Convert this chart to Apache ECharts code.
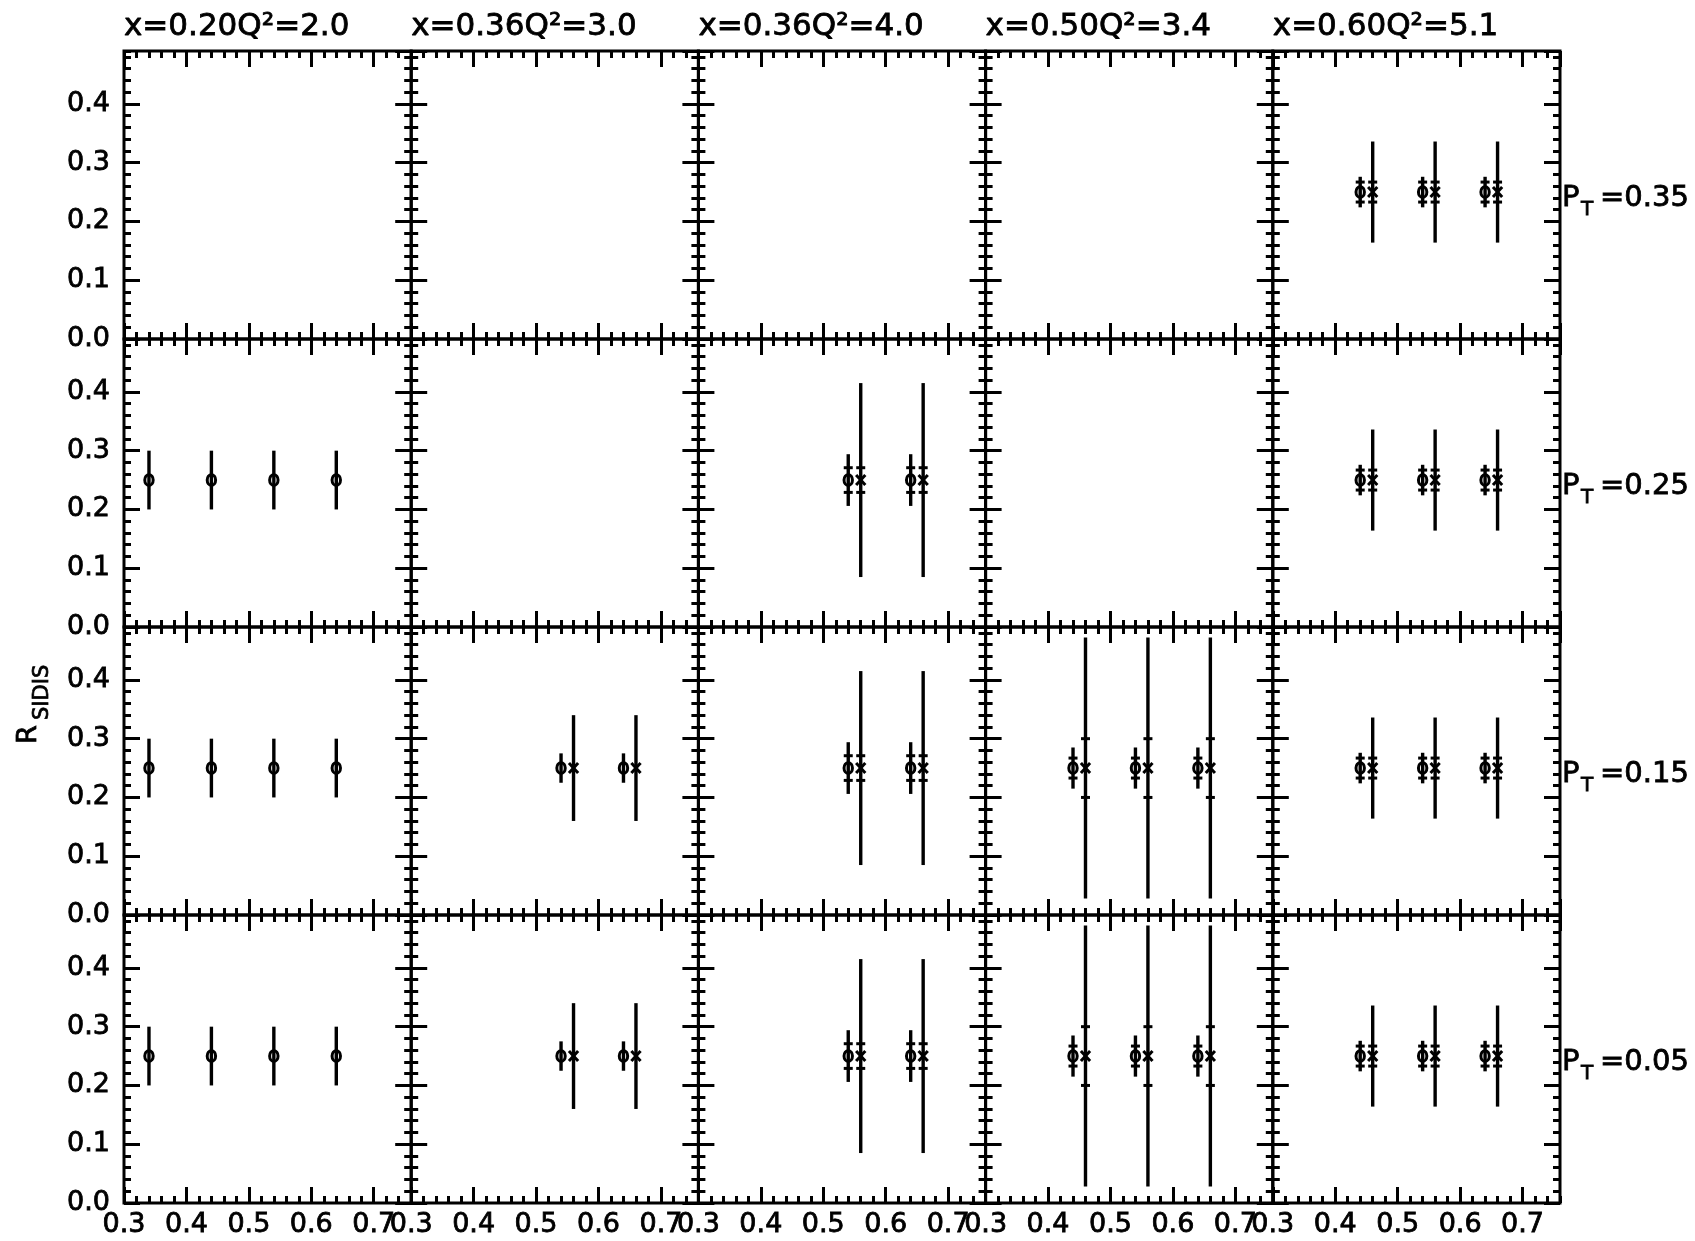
<!DOCTYPE html>
<html>
<head>
<meta charset="utf-8">
<script src="https://cdn.jsdelivr.net/npm/echarts@6/dist/echarts.min.js"></script>
<style>
  html, body { margin: 0; padding: 0; background: #fff; }
  #main { width: 1695px; height: 1241px; }
</style>
</head>
<body>
<div id="main"></div>
<script>
// ---------------- data ----------------
const colTitles = ['x=0.20Q²=2.0', 'x=0.36Q²=3.0', 'x=0.36Q²=4.0', 'x=0.50Q²=3.4', 'x=0.60Q²=5.1'];
const ptLabels = ['0.35', '0.25', '0.15', '0.05'];
// rows (P_T) x columns (x,Q2): 1 = panel has points
const panelHasData = [
  [0, 0, 0, 0, 1],
  [1, 0, 1, 0, 1],
  [1, 1, 1, 1, 1],
  [1, 1, 1, 1, 1]
];
// open-circle points, per column
const circX   = [[0.34, 0.44, 0.54, 0.64], [0.54, 0.64], [0.54, 0.64], [0.44, 0.54, 0.64], [0.44, 0.54, 0.64]];
const circR   = [[0.25, 0.25, 0.25, 0.25], [0.25, 0.25], [0.25, 0.25], [0.25, 0.25, 0.25], [0.25, 0.25, 0.25]];
const circErr = [[0.05, 0.05, 0.05, 0.05], [0.025, 0.025], [0.044, 0.044], [0.035, 0.035, 0.035], [0.026, 0.026, 0.026]];
const circCap = [[0, 0, 0, 0], [0, 0], [0.021, 0.021], [0.017, 0.017, 0.017], [0.017, 0.017, 0.017]];
// cross points, per column
const crossX   = [[], [0.56, 0.66], [0.56, 0.66], [0.46, 0.56, 0.66], [0.46, 0.56, 0.66]];
const crossR   = [[], [0.25, 0.25], [0.25, 0.25], [0.25, 0.25, 0.25], [0.25, 0.25, 0.25]];
const crossErr = [[], [0.09, 0.09], [0.165, 0.165], [0.222, 0.222, 0.222], [0.086, 0.086, 0.086]];
const crossCap = [[], [0, 0], [0.021, 0.021], [0.05, 0.05, 0.05], [0.017, 0.017, 0.017]];
// axis ranges / tick steps
const xRange = [0.3, 0.76];
const yRange = [0, 0.49];
const majorStep = 0.1;
const minorStep = 0.02;

// ---------------- layout ----------------
const FONT = 'DejaVu Sans';
const GL = 124, GT = 51, PW = 287.2, PH = 288;
const NR = 4, NC = 5;
const TICKW = 3;

const grids = [], xAxes = [], yAxes = [], series = [];

function fmt(v) {
  return Math.abs(v * 10 - Math.round(v * 10)) < 1e-6 ? v.toFixed(1) : '';
}

function labelStyle(margin) {
  return { formatter: fmt, showMinLabel: true, showMaxLabel: false, hideOverlap: false,
    color: '#000', fontFamily: FONT, fontSize: 27, margin: margin,
    textBorderColor: '#000', textBorderWidth: 0.8 };
}
function xAxis(g, step, pos, len, showLabel) {
  return {
    type: 'value', gridIndex: g, min: xRange[0], max: xRange[1], interval: step, position: pos,
    axisLine: { show: false, onZero: false },
    splitLine: { show: false }, minorTick: { show: false },
    axisTick: { show: true, inside: true, length: len, lineStyle: { color: '#000', width: TICKW } },
    axisLabel: Object.assign({ show: showLabel }, labelStyle(8))
  };
}
function yAxis(g, step, pos, len, showLabel) {
  return {
    type: 'value', gridIndex: g, min: yRange[0], max: yRange[1], interval: step, position: pos,
    axisLine: { show: false, onZero: false },
    splitLine: { show: false }, minorTick: { show: false },
    axisTick: { show: true, inside: true, length: len, lineStyle: { color: '#000', width: TICKW } },
    axisLabel: Object.assign({ show: showLabel }, labelStyle(14))
  };
}

function pointSeries(g, xs, ys, errs, caps, kind) {
  return {
    type: 'custom', xAxisIndex: g * 4, yAxisIndex: g * 4, z: 5,
    data: xs.map((x, i) => [x, ys[i], errs[i], caps[i]]),
    encode: { x: 0, y: 1 },
    renderItem: function (params, api) {
      const x = api.value(0), y = api.value(1), e = api.value(2), c = api.value(3);
      const p = api.coord([x, y]);
      const pt = api.coord([x, y + e]);
      const pb = api.coord([x, y - e]);
      const children = [
        { type: 'line', shape: { x1: pt[0], y1: pt[1], x2: pb[0], y2: pb[1] }, style: { stroke: '#000', lineWidth: 3.4 } }
      ];
      if (c > 0) {
        const c1 = api.coord([x, y + c]), c2 = api.coord([x, y - c]);
        children.push({ type: 'line', shape: { x1: c1[0] - 4.5, y1: c1[1], x2: c1[0] + 4.5, y2: c1[1] }, style: { stroke: '#000', lineWidth: 3 } });
        children.push({ type: 'line', shape: { x1: c2[0] - 4.5, y1: c2[1], x2: c2[0] + 4.5, y2: c2[1] }, style: { stroke: '#000', lineWidth: 3 } });
      }
      if (kind === 'circle') {
        children.push({ type: 'ellipse', shape: { cx: p[0], cy: p[1], rx: 4.2, ry: 5.4 }, style: { stroke: '#000', lineWidth: 3, fill: null } });
      } else {
        children.push({ type: 'line', shape: { x1: p[0] - 4.6, y1: p[1] - 5, x2: p[0] + 4.6, y2: p[1] + 5 }, style: { stroke: '#000', lineWidth: 3 } });
        children.push({ type: 'line', shape: { x1: p[0] - 4.6, y1: p[1] + 5, x2: p[0] + 4.6, y2: p[1] - 5 }, style: { stroke: '#000', lineWidth: 3 } });
      }
      return { type: 'group', children: children };
    }
  };
}

for (let r = 0; r < NR; r++) {
  for (let c = 0; c < NC; c++) {
    const g = r * NC + c;
    grids.push({
      left: GL + c * PW, top: GT + r * PH, width: PW, height: PH,
      show: true, borderColor: '#000', borderWidth: 3, backgroundColor: 'transparent',
      containLabel: false, outerBoundsMode: 'none'
    });
    xAxes.push(xAxis(g, majorStep, 'bottom', 16, r === NR - 1));
    xAxes.push(xAxis(g, minorStep, 'bottom', 7, false));
    xAxes.push(xAxis(g, majorStep, 'top', 16, false));
    xAxes.push(xAxis(g, minorStep, 'top', 7, false));
    yAxes.push(yAxis(g, majorStep, 'left', 16, c === 0));
    yAxes.push(yAxis(g, minorStep, 'left', 7, false));
    yAxes.push(yAxis(g, majorStep, 'right', 16, false));
    yAxes.push(yAxis(g, minorStep, 'right', 7, false));
    if (panelHasData[r][c]) {
      series.push(pointSeries(g, circX[c], circR[c], circErr[c], circCap[c], 'circle'));
      if (crossX[c].length) series.push(pointSeries(g, crossX[c], crossR[c], crossErr[c], crossCap[c], 'cross'));
    }
  }
}

// text elements
function txt(x, y, text, size) {
  return { type: 'text', x: x, y: y, style: { text: text, font: size + 'px "DejaVu Sans"', fill: '#000',
    stroke: '#000', lineWidth: 0.8, align: 'left', verticalAlign: 'middle' } };
}
const graphics = [];
colTitles.forEach((t, c) => graphics.push(txt(GL + c * PW, 27, t, 31)));
ptLabels.forEach((v, r) => {
  const top = GT + r * PH;
  graphics.push(txt(1562, top + 147, 'P', 29));
  graphics.push(txt(1581, top + 159, 'T', 20));
  graphics.push(txt(1600, top + 147, '=' + v, 29));
});
graphics.push({
  type: 'group', x: 37, y: 743, rotation: Math.PI / 2,
  children: [ txt(-1, -8, 'R', 27), txt(23, 6, 'SIDIS', 21) ]
});

const chart = echarts.init(document.getElementById('main'), null, { renderer: 'canvas' });
chart.setOption({
  animation: false,
  backgroundColor: '#fff',
  grid: grids,
  xAxis: xAxes,
  yAxis: yAxes,
  series: series,
  graphic: graphics
});
</script>
</body>
</html>
